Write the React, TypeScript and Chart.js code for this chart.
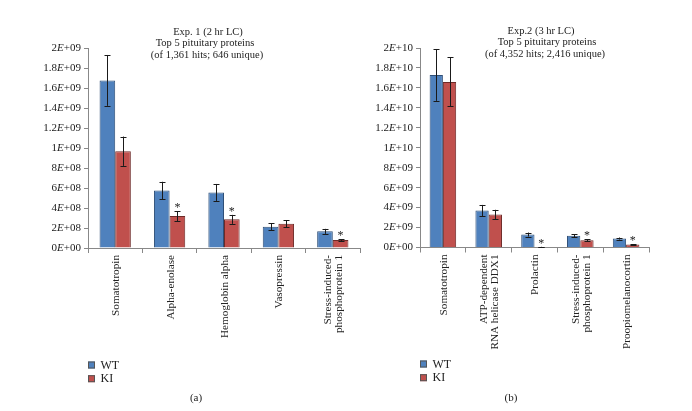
import React, { useEffect, useRef } from 'react';
import { Chart, registerables } from 'chart.js';

Chart.register(...registerables);

// ---------- Data ----------
const leftCategories: (string | string[])[] = [
  'Somatotropin',
  'Alpha-enolase',
  'Hemoglobin alpha',
  'Vasopressin',
  ['Stress-induced-', 'phosphoprotein 1'],
];
const leftWT = [1.68e9, 0.577e9, 0.557e9, 0.213e9, 0.167e9];
const leftWTErr = [0.255e9, 0.087e9, 0.085e9, 0.033e9, 0.025e9];
const leftKI = [0.97e9, 0.32e9, 0.287e9, 0.243e9, 0.08e9];
const leftKIErr = [0.147e9, 0.05e9, 0.045e9, 0.035e9, 0.01e9];
const leftSig = [false, true, true, false, true];
const leftYTicks = ['0E+00', '2E+08', '4E+08', '6E+08', '8E+08', '1E+09', '1.2E+09', '1.4E+09', '1.6E+09', '1.8E+09', '2E+09'];
const leftTitle = ['Exp. 1 (2 hr LC)', 'Top 5 pituitary proteins', '(of 1,361 hits; 646 unique)'];

const rightCategories: (string | string[])[] = [
  'Somatotropin',
  ['ATP-dependent', 'RNA helicase DDX1'],
  'Prolactin',
  ['Stress-induced-', 'phosphoprotein 1'],
  'Proopiomelanocortin',
];
const rightWT = [17.3e9, 3.7e9, 1.3e9, 1.17e9, 0.9e9];
const rightWTErr = [2.6e9, 0.57e9, 0.2e9, 0.15e9, 0.1e9];
const rightKI = [16.6e9, 3.3e9, 0.05e9, 0.73e9, 0.3e9];
const rightKIErr = [2.45e9, 0.48e9, 0.02e9, 0.1e9, 0.05e9];
const rightSig = [false, false, true, true, true];
const rightYTicks = ['0E+00', '2E+09', '4E+09', '6E+09', '8E+09', '1E+10', '1.2E+10', '1.4E+10', '1.6E+10', '1.8E+10', '2E+10'];
const rightTitle = ['Exp.2 (3 hr LC)', 'Top 5 pituitary proteins', '(of 4,352 hits; 2,416 unique)'];

const seriesNames = ['WT', 'KI'];
const seriesColors = ['#4F81BD', '#C0504D'];

const SERIF = "'Liberation Serif', 'Times New Roman', serif";

type PanelCfg = {
  categories: (string | string[])[];
  wt: number[];
  wtErr: number[];
  ki: number[];
  kiErr: number[];
  sig: boolean[];
  yTicks: string[];
  yMax: number;
  title: string[];
  titlePos: { x: number; y: number }[];
  canvasLeft: number;
  width: number;
  area: { left: number; right: number; top: number; bottom: number };
  catPct: number;
  legendPos: { x: number; y: number };
  panelLabel: string;
  panelLabelPos: { x: number; y: number };
};

function drawTickLabel(ctx: CanvasRenderingContext2D, label: string, xRight: number, y: number, size: number) {
  const idx = label.indexOf('E');
  const a = label.slice(0, idx);
  const b = 'E';
  const c = label.slice(idx + 1);
  const normal = `${size}px ${SERIF}`;
  const italic = `italic ${size}px ${SERIF}`;
  ctx.font = normal;
  const wa = ctx.measureText(a).width;
  const wc = ctx.measureText(c).width;
  ctx.font = italic;
  const wb = ctx.measureText(b).width;
  let x = xRight - (wa + wb + wc);
  ctx.textAlign = 'left';
  ctx.textBaseline = 'middle';
  ctx.font = normal;
  ctx.fillText(a, x, y);
  x += wa;
  ctx.font = italic;
  ctx.fillText(b, x, y);
  x += wb;
  ctx.font = normal;
  ctx.fillText(c, x, y);
}

function makeChart(canvas: HTMLCanvasElement, cfg: PanelCfg) {
  const H = 411;
  const errs = [cfg.wtErr, cfg.kiErr];
  const overlay = {
    id: 'overlay',
    afterDatasetsDraw(chart: any) {
      const ctx: CanvasRenderingContext2D = chart.ctx;
      const yScale = chart.scales.y;
      ctx.save();
      ctx.strokeStyle = '#1a1a1a';
      ctx.lineWidth = 1;
      chart.data.datasets.forEach((ds: any, d: number) => {
        const meta = chart.getDatasetMeta(d);
        meta.data.forEach((bar: any, i: number) => {
          const v = ds.data[i];
          const e = errs[d][i];
          const x = Math.round(bar.x) + 0.5;
          const yt = yScale.getPixelForValue(v + e);
          const yb = yScale.getPixelForValue(Math.max(0, v - e));
          ctx.beginPath();
          ctx.moveTo(x, yt);
          ctx.lineTo(x, yb);
          ctx.moveTo(x - 3, Math.round(yt) + 0.5);
          ctx.lineTo(x + 3, Math.round(yt) + 0.5);
          ctx.moveTo(x - 3, Math.round(yb) + 0.5);
          ctx.lineTo(x + 3, Math.round(yb) + 0.5);
          ctx.stroke();
          if (d === 1 && cfg.sig[i]) {
            ctx.fillStyle = '#222';
            ctx.font = `12px ${SERIF}`;
            ctx.textAlign = 'center';
            ctx.textBaseline = 'middle';
            ctx.fillText('*', bar.x, yt - 3);
          }
        });
      });
      ctx.restore();
    },
    afterDraw(chart: any) {
      const ctx: CanvasRenderingContext2D = chart.ctx;
      const yScale = chart.scales.y;
      const xScale = chart.scales.x;
      ctx.save();
      ctx.fillStyle = '#222';
      // y tick labels with italic E
      yScale.ticks.forEach((t: any, i: number) => {
        const py = yScale.getPixelForTick(i);
        drawTickLabel(ctx, cfg.yTicks[i] ?? '', chart.chartArea.left - 7, py, 11);
      });
      // x category labels, rotated
      ctx.font = `11.2px ${SERIF}`;
      ctx.textAlign = 'right';
      ctx.textBaseline = 'middle';
      const lh = 11.4;
      (chart.data.labels as any[]).forEach((lab: any, i: number) => {
        const lines: string[] = Array.isArray(lab) ? lab : [lab];
        const cx = xScale.getPixelForValue(i) + 1;
        const y0 = chart.chartArea.bottom + 7;
        lines.forEach((ln, k) => {
          const lx = cx + (k - (lines.length - 1) / 2) * lh;
          ctx.save();
          ctx.translate(lx, y0);
          ctx.rotate(-Math.PI / 2);
          ctx.fillText(ln, 0, 0);
          ctx.restore();
        });
      });
      // title
      ctx.font = `10.5px ${SERIF}`;
      ctx.textAlign = 'center';
      ctx.textBaseline = 'middle';
      cfg.title.forEach((line, i) => {
        ctx.fillText(line, cfg.titlePos[i].x - cfg.canvasLeft, cfg.titlePos[i].y);
      });
      // legend
      seriesNames.forEach((name, i) => {
        const lx = cfg.legendPos.x - cfg.canvasLeft;
        const ly = cfg.legendPos.y + i * 13.7;
        ctx.fillStyle = seriesColors[i];
        ctx.fillRect(lx, ly - 3.5, 7, 7);
        ctx.strokeStyle = '#555';
        ctx.lineWidth = 1;
        ctx.strokeRect(lx + 0.5, ly - 3, 6, 6);
        ctx.fillStyle = '#222';
        ctx.font = `12px ${SERIF}`;
        ctx.textAlign = 'left';
        ctx.textBaseline = 'middle';
        ctx.fillText(name, lx + 12.5, ly + 0.5);
      });
      // panel label
      ctx.font = `11px ${SERIF}`;
      ctx.textAlign = 'center';
      ctx.textBaseline = 'middle';
      ctx.fillText(cfg.panelLabel, cfg.panelLabelPos.x - cfg.canvasLeft, cfg.panelLabelPos.y);
      ctx.restore();
    },
  };

  const localLeft = cfg.area.left - cfg.canvasLeft;
  const localRight = cfg.area.right - cfg.canvasLeft;

  return new Chart(canvas, {
    type: 'bar',
    data: {
      labels: cfg.categories as any,
      datasets: [
        {
          label: seriesNames[0],
          data: cfg.wt,
          backgroundColor: seriesColors[0],
          borderColor: '#2f4f77',
          borderWidth: 1,
          barPercentage: 1,
          categoryPercentage: cfg.catPct,
        },
        {
          label: seriesNames[1],
          data: cfg.ki,
          backgroundColor: seriesColors[1],
          borderColor: '#6e2a28',
          borderWidth: 1,
          barPercentage: 1,
          categoryPercentage: cfg.catPct,
        },
      ],
    },
    options: {
      responsive: false,
      animation: false,
      layout: {
        padding: {
          left: 0,
          right: cfg.width - localRight,
          top: cfg.area.top,
          bottom: 0,
        },
      },
      plugins: {
        legend: { display: false },
        title: { display: false },
        tooltip: { enabled: false },
      },
      scales: {
        x: {
          grid: {
            offset: true,
            drawOnChartArea: false,
            drawTicks: true,
            tickLength: 5,
            color: '#888',
          },
          border: { color: '#888', width: 1 },
          ticks: {
            display: false,
            autoSkip: false,
          },
          afterFit: (scale: any) => {
            scale.height = H - cfg.area.bottom;
          },
        },
        y: {
          min: 0,
          max: cfg.yMax,
          ticks: {
            display: false,
            stepSize: cfg.yMax / 10,
          },
          grid: {
            drawOnChartArea: false,
            drawTicks: true,
            tickLength: 4,
            color: '#888',
          },
          border: { color: '#888', width: 1 },
          afterFit: (scale: any) => {
            scale.width = localLeft;
          },
        },
      },
    },
    plugins: [overlay],
  } as any);
}

const leftCfg: PanelCfg = {
  categories: leftCategories,
  wt: leftWT,
  wtErr: leftWTErr,
  ki: leftKI,
  kiErr: leftKIErr,
  sig: leftSig,
  yTicks: leftYTicks,
  yMax: 2e9,
  title: leftTitle,
  titlePos: [
    { x: 208, y: 32 },
    { x: 205, y: 43 },
    { x: 207, y: 55.5 },
  ],
  canvasLeft: 0,
  width: 372,
  area: { left: 88, right: 360, top: 48.5, bottom: 248 },
  catPct: 0.575,
  legendPos: { x: 88, y: 365 },
  panelLabel: '(a)',
  panelLabelPos: { x: 196, y: 398 },
};

const rightCfg: PanelCfg = {
  categories: rightCategories,
  wt: rightWT,
  wtErr: rightWTErr,
  ki: rightKI,
  kiErr: rightKIErr,
  sig: rightSig,
  yTicks: rightYTicks,
  yMax: 2e10,
  title: rightTitle,
  titlePos: [
    { x: 541, y: 31 },
    { x: 547, y: 42 },
    { x: 545, y: 54.5 },
  ],
  canvasLeft: 362,
  width: 330,
  area: { left: 420, right: 649, top: 48, bottom: 247.5 },
  catPct: 0.58,
  legendPos: { x: 420, y: 364 },
  panelLabel: '(b)',
  panelLabelPos: { x: 511, y: 398 },
};

export default function App() {
  const leftRef = useRef<HTMLCanvasElement>(null);
  const rightRef = useRef<HTMLCanvasElement>(null);

  useEffect(() => {
    document.body.style.margin = '0';
    const c1 = leftRef.current ? makeChart(leftRef.current, leftCfg) : null;
    const c2 = rightRef.current ? makeChart(rightRef.current, rightCfg) : null;
    return () => {
      c1?.destroy();
      c2?.destroy();
    };
  }, []);

  return (
    <div style={{ position: 'fixed', left: 0, top: 0, width: 692, height: 411, background: '#fff' }}>
      <canvas
        ref={leftRef}
        width={leftCfg.width}
        height={411}
        style={{ position: 'absolute', left: leftCfg.canvasLeft, top: 0, width: leftCfg.width, height: 411 }}
      />
      <canvas
        ref={rightRef}
        width={rightCfg.width}
        height={411}
        style={{ position: 'absolute', left: rightCfg.canvasLeft, top: 0, width: rightCfg.width, height: 411 }}
      />
    </div>
  );
}
